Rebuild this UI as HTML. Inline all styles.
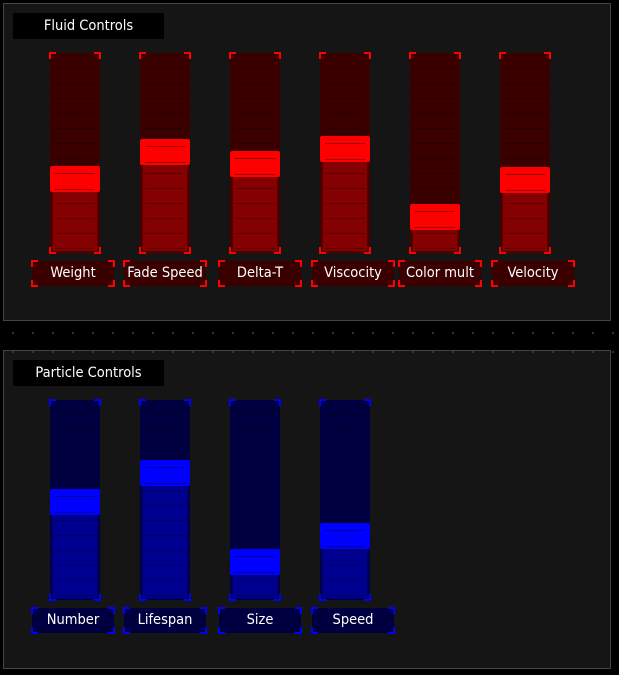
<!DOCTYPE html>
<html><head><meta charset="utf-8"><style>
body{margin:0;width:619px;height:675px;background:#000;font-family:"DejaVu Sans Condensed","DejaVu Sans","Liberation Sans",sans-serif;position:relative;overflow:hidden}
.panel{position:absolute;left:3px;width:608px;background:#151515;border:1px solid #444;box-sizing:border-box}
.title{position:absolute;left:9px;top:9px;width:151px;height:26px;background:#000;color:#fff;font-size:14.5px;line-height:26px;text-align:center;border-radius:2px}
.track{position:absolute;width:50px;height:200px}
.fill{position:absolute;left:3px;right:3px;bottom:2px}
.tick{position:absolute;left:5px;right:5px;height:1px;background:rgba(0,0,0,0.3)}
.handle{position:absolute;left:0;width:50px;height:26px;border-radius:2px}
.lbl{position:absolute;width:82px;height:25px;color:#fff;font-size:14.5px;line-height:25px;text-align:center;border-radius:2px}
.c{position:absolute;width:5px;height:5px}
.dot{position:absolute;width:2px;height:2px;background:#333}
</style></head><body>
<div class="panel" style="top:3px;height:318px"><div class="title">Fluid Controls</div></div>
<div class="panel" style="top:350px;height:319px"><div class="title">Particle Controls</div></div>
<script>
const fluidLabels=["Weight","Fade Speed","Delta-T","Viscocity","Color mult","Velocity"];
const fluidVals=[0.35,0.506,0.437,0.523,0.132,0.345];
const particleLabels=["Number","Lifespan","Size","Speed"];
const particleVals=[0.489,0.655,0.144,0.293];
const labelLefts=[32,124,219,312,399,492];
function corners(el,col){
  [["left","top"],["right","top"],["left","bottom"],["right","bottom"]].forEach(([h,v])=>{
    const c=document.createElement('div');c.className='c';
    c.style[h]='-1px';c.style[v]='-1px';
    c.style['border-'+h]='2px solid '+col;c.style['border-'+v]='2px solid '+col;
    el.appendChild(c);
  });
}
function build(labels,vals,top,lblTop,col){
  labels.forEach((name,i)=>{
    const x=50+i*90;
    const tr=document.createElement('div');tr.className='track';
    
    
    tr.style.left=x+'px';tr.style.top=top+'px';tr.style.background=col.up;
    const hy=(1-vals[i])*174;
    const f=document.createElement('div');f.className='fill';f.style.top=(hy+13)+'px';f.style.background=col.low;f.style.boxShadow='0 0 4px '+col.low;
    tr.appendChild(f);
    for(let y=15;y<200;y+=15){const t=document.createElement('div');t.className='tick';t.style.top=y+'px';tr.appendChild(t);}
    const h=document.createElement('div');h.className='handle';
    
    
    h.style.top=hy+'px';h.style.background=col.hi;
    h.innerHTML='<div class="tick" style="top:7px;background:rgba(0,0,0,0.4)"></div><div class="tick" style="top:23px;background:rgba(0,0,0,0.4)"></div>';
    tr.appendChild(h);
    corners(tr,col.hi);
    document.body.appendChild(tr);
    const l=document.createElement('div');l.className='lbl';
    
    
    l.style.left=labelLefts[i]+'px';l.style.top=lblTop+'px';l.style.background=col.lbl;l.textContent=name;
    corners(l,col.hi);
    document.body.appendChild(l);
  });
}
build(fluidLabels,fluidVals,53,261,{up:'#3a0000',low:'#850000',hi:'#ff0000',lbl:'#3a0000'});
build(particleLabels,particleVals,400,608,{up:'#000040',low:'#000090',hi:'#0000ff',lbl:'#000040'});
for(let x=12;x<619;x+=20){[332,351].forEach(y=>{const d=document.createElement('div');d.className='dot';d.style.left=x+'px';d.style.top=y+'px';document.body.appendChild(d);});}
</script>
</body></html>
